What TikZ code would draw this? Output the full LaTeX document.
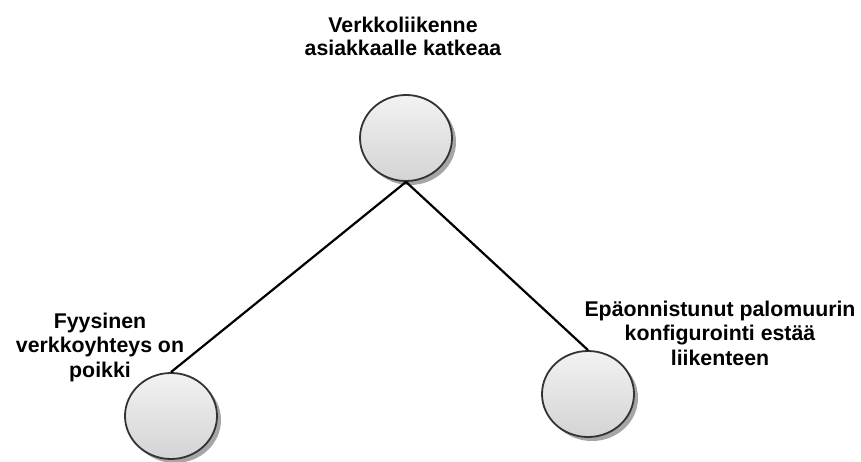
\documentclass[tikz,border=0pt]{standalone}
\usepackage{fontspec}
\setmainfont{Liberation Sans}
\usetikzlibrary{shapes.geometric,shadows}
\begin{document}
\begin{tikzpicture}[x=1pt,y=-1pt,
  evt/.style={ellipse, minimum width=92pt, minimum height=86pt, inner sep=0pt,
    draw=black!80, line width=1.8pt, top color=black!5, bottom color=black!17,
    drop shadow={shadow xshift=4pt, shadow yshift=-4pt, fill=black!35, opacity=1}},
  lbl/.style={font=\bfseries\fontsize{21.3}{24.3}\selectfont, align=center, inner sep=0pt, anchor=north},
  conn/.style={line width=2.2pt, black}]
\useasboundingbox (0,0) rectangle (861,462);
\node[evt] (top) at (406,138) {};
\node[evt] (left) at (171,416) {};
\node[evt] (right) at (588,394) {};
\draw[conn] (top.south) -- (left.north);
\draw[conn] (top.south) -- (right.north);
\node[lbl, font=\bfseries\fontsize{21.3}{23.3}\selectfont] (ltop) at (403,16.5) {Verkkoliikenne\\asiakkaalle katkeaa};
\node[lbl] (lleft) at (100,313) {Fyysinen\\verkkoyhteys on\\poikki};
\node[lbl] (lright) at (720,301) {Epäonnistunut palomuurin\\konfigurointi estää\\liikenteen};
\end{tikzpicture}
\end{document}
